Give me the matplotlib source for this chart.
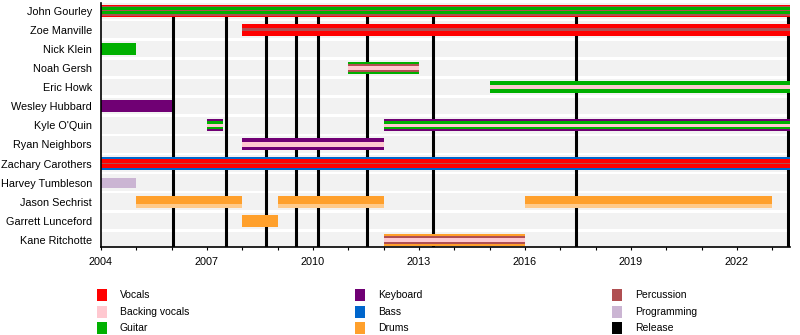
# Timeline of band members (EasyTimeline style)

import numpy as np
import matplotlib.pyplot as plt
from matplotlib.patches import Rectangle

plt.rcParams['font.family'] = ['Liberation Sans', 'DejaVu Sans']

members = ["John Gourley", "Zoe Manville", "Nick Klein", "Noah Gersh", "Eric Howk",
           "Wesley Hubbard", "Kyle O'Quin", "Ryan Neighbors", "Zachary Carothers",
           "Harvey Tumbleson", "Jason Sechrist", "Garrett Lunceford", "Kane Ritchotte"]

role_colors = {
	"vocals": "#ff0000",
	"backing": "#ffc8d0",
	"guitar": "#00b000",
	"keyboard": "#700074",
	"bass": "#0066cc",
	"drums": "#ffa02c",
	"percussion": "#b04f52",
	"programming": "#cbb5d3",
	"release": "#000000",
}

# member, from, till, roles (outermost first)
stints = [
	("John Gourley", 2004.0, 2023.5, ["vocals", "percussion", "guitar", "percussion"]),
	("Zoe Manville", 2008.0, 2023.5, ["vocals", "percussion"]),
	("Nick Klein", 2004.0, 2005.0, ["guitar"]),
	("Noah Gersh", 2011.0, 2013.0, ["guitar", "percussion", "backing"]),
	("Eric Howk", 2015.0, 2023.5, ["guitar", "backing"]),
	("Wesley Hubbard", 2004.0, 2006.0, ["keyboard"]),
	("Kyle O'Quin", 2007.0, 2007.45, ["keyboard", "guitar", "backing"]),
	("Kyle O'Quin", 2012.0, 2023.5, ["keyboard", "guitar", "backing"]),
	("Ryan Neighbors", 2008.0, 2012.0, ["keyboard", "backing"]),
	("Zachary Carothers", 2004.0, 2023.5, ["bass", "vocals", "percussion"]),
	("Harvey Tumbleson", 2004.0, 2005.0, ["programming"]),
	("Jason Sechrist", 2005.0, 2008.0, ["drums"]),
	("Jason Sechrist", 2009.0, 2012.0, ["drums"]),
	("Jason Sechrist", 2016.0, 2023.0, ["drums"]),
	("Garrett Lunceford", 2008.0, 2009.0, ["drums"]),
	("Kane Ritchotte", 2012.0, 2016.0, ["drums", "percussion", "backing"]),
]

releases = [2006.04, 2007.54, 2008.67, 2009.52, 2010.14, 2011.53, 2013.40, 2017.44, 2023.45]

legend_labels = ["Vocals", "Backing vocals", "Guitar", "Keyboard", "Bass", "Drums",
                 "Percussion", "Programming", "Release"]
legend_keys = ["vocals", "backing", "guitar", "keyboard", "bass", "drums",
               "percussion", "programming", "release"]

# stripe widths in pixels, outermost first
bar_px = {
	"John Gourley": [12, 10, 7, 1.5],
	"Zoe Manville": [12, 2.5],
	"Noah Gersh": [12.5, 8, 4.5],
	"Eric Howk": [12, 4.5],
	"Kyle O'Quin": [12, 8, 3.5],
	"Ryan Neighbors": [12, 4.5],
	"Zachary Carothers": [12.5, 8.5, 1.5],
	"Harvey Tumbleson": [10],
	"Kane Ritchotte": [12, 8, 4.5],
}

ROW_PX = 19.1
X0, X1 = 2004.0, 2023.5

fig = plt.figure(figsize=(8, 3.35), dpi=100)
ax = fig.add_axes([101/800, 88/335, 689/800, 244/335])

rows = np.arange(len(members))
row_of = {m: i for i, m in enumerate(members)}

# grey background band for each row
ax.barh(rows, X1 - X0, left=X0, height=16.5/ROW_PX, color="#f2f2f2", zorder=0)

# releases
ax.vlines(releases, 0, 13, color=role_colors["release"], lw=2.2, zorder=1)

for member, start, end, roles in stints:
	y = row_of[member]
	widths = bar_px.get(member, [12])
	for k, role in enumerate(roles):
		ax.barh(y, end - start, left=start, height=widths[k]/ROW_PX,
		        color=role_colors[role], lw=0, zorder=2 + k)
	if member == "Jason Sechrist":
		# soft lower edge
		ax.barh(y + 4.0/ROW_PX, end - start, left=start, height=4.0/ROW_PX,
		        color="white", alpha=0.45, lw=0, zorder=6)

ax.set_xlim(X0, X1)
ax.set_ylim(12.37, -0.40)
ax.set_yticks(rows)
ax.set_yticklabels(members, fontsize=7.8)
ax.tick_params(axis='y', length=0, pad=6.5)
ax.set_xticks(np.arange(2004, 2023, 3))
ax.set_xticks(np.arange(2004, 2024, 1), minor=True)
ax.tick_params(axis='x', which='both', length=2.5, width=0.8, direction='out', labelsize=7.8, pad=5)
for s in ["top", "right"]:
	ax.spines[s].set_visible(False)
ax.spines["left"].set_linewidth(1.2)
ax.spines["bottom"].set_linewidth(1.2)
ax.spines["left"].set_zorder(10)
ax.spines["bottom"].set_zorder(10)

# legend in three columns
col_x = [97, 355, 612]
row_y = [295, 312, 328]
for i, (lab, key) in enumerate(zip(legend_labels, legend_keys)):
	cx = col_x[i // 3]
	cy = row_y[i % 3]
	fig.add_artist(Rectangle((cx/800, 1 - (cy + 6)/335), 10/800, 12/335,
	                         transform=fig.transFigure, color=role_colors[key], lw=0))
	fig.text((cx + 23)/800, 1 - cy/335, lab, fontsize=7.5, va='center', ha='left')

plt.savefig("out.png", dpi=100)
